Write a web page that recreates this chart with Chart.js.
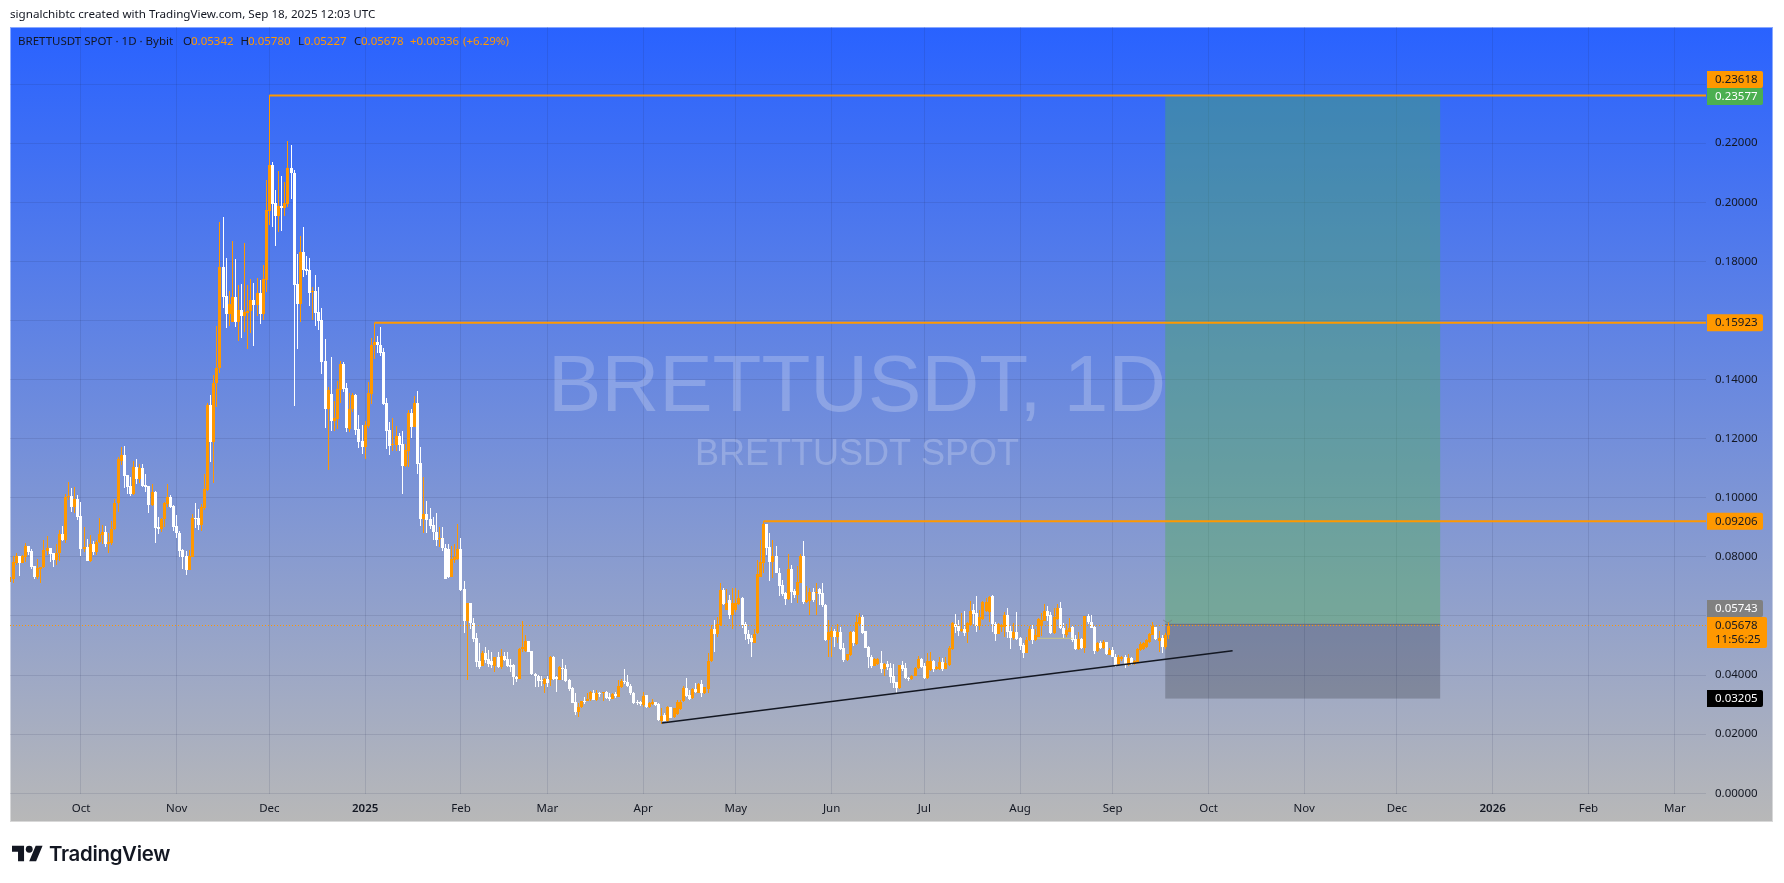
<!DOCTYPE html>
<html>
<head>
<meta charset="utf-8">
<title>BRETTUSDT</title>
<script src="https://cdn.jsdelivr.net/npm/chart.js@4/dist/chart.umd.min.js"></script>
<style>
    html, body { margin: 0; padding: 0; background: #fff; overflow: hidden; }
    #wrap { position: relative; width: 1784px; height: 883px; }
    #chart { position: absolute; left: 0; top: 0; }
    #credit { position: absolute; left: 10px; top: 6px; font: 11.65px "Noto Sans", sans-serif; color: #131722; white-space: nowrap; }
    #logo { position: absolute; left: 12px; top: 845px; }
    #brand { position: absolute; left: 49px; top: 841px; font: 600 20.4px Inter, sans-serif; color: #131722; letter-spacing: -0.3px; }
</style>
</head>
<body>
<div id="wrap">
    <canvas id="chart" width="1784" height="883"></canvas>
    <div id="credit">signalchibtc created with TradingView.com, Sep 18, 2025 12:03 UTC</div>
    <svg id="logo" width="31" height="17" viewBox="0 4 36 18"><path fill="#131722" d="M14 22H7V11H0V4h14v18zM28 22h-8l7.5-18h8L28 22z"/><circle fill="#131722" cx="20" cy="8" r="4"/></svg>
    <div id="brand">TradingView</div>
</div>
<script>
// daily candles, day numbers count from 1 Oct 2024
const firstDay = -23;

const opens = [
.0716,.0724,.0781,.0803,.0781,.0799,.0837,.0820,.0769,.0731,
.0758,.0765,.0821,.0830,.0813,.0790,.0812,.0878,.0857,.1002,
.1006,.0968,.0996,.0938,.0827,.0834,.0786,.0844,.0818,.0852,
.0873,.0884,.0844,.0846,.0893,.0981,.1125,.1145,.1076,.1040,
.1014,.1103,.1063,.1101,.1042,.1039,.0976,.1020,.0901,.0893,
.0927,.0979,.1001,.0972,.0905,.0881,.0822,.0803,.0756,.0801,
.0932,.0931,.0908,.0966,.1026,.1315,.1190,.1387,.1438,.1781,
.1683,.1623,.1596,.1680,.1596,.1636,.1615,.1627,.1633,.1669,
.1653,.1693,.1623,.1738,.1972,.2126,.1998,.1954,.1988,.1981,
.1994,.2116,.2099,.1724,.1656,.1832,.1774,.1771,.1698,.1700,
.1629,.1602,.1463,.1301,.1351,.1260,.1267,.1365,.1453,.1373,
.1232,.1299,.1348,.1232,.1191,.1172,.1243,.1352,.1516,.1527,
.1517,.1493,.1321,.1230,.1178,.1180,.1209,.1182,.1109,.1158,
.1287,.1240,.1321,.1118,.0928,.0945,.0928,.0908,.0884,.0861,
.0863,.0830,.0827,.0731,.0790,.0792,.0827,.0691,.0582,.0645,
.0575,.0526,.0446,.0431,.0476,.0453,.0447,.0432,.0462,.0429,
.0464,.0453,.0434,.0435,.0395,.0387,.0488,.0481,.0515,.0482,
.0404,.0398,.0384,.0370,.0386,.0384,.0462,.0393,.0384,.0423,
.0421,.0384,.0356,.0309,.0275,.0291,.0314,.0311,.0318,.0341,
.0316,.0341,.0338,.0344,.0325,.0319,.0336,.0327,.0359,.0380,
.0378,.0363,.0341,.0310,.0308,.0298,.0331,.0292,.0302,.0308,
.0301,.0246,.0265,.0243,.0291,.0257,.0267,.0284,.0312,.0358,
.0333,.0321,.0353,.0341,.0370,.0338,.0354,.0446,.0556,.0539,
.0570,.0688,.0620,.0654,.0602,.0620,.0641,.0662,.0572,.0539,
.0526,.0510,.0541,.0731,.0781,.0911,.0832,.0784,.0803,.0747,
.0705,.0677,.0656,.0758,.0686,.0671,.0713,.0803,.0649,.0652,
.0681,.0677,.0690,.0679,.0638,.0519,.0528,.0549,.0528,.0547,
.0493,.0451,.0468,.0547,.0505,.0573,.0598,.0549,.0494,.0462,
.0432,.0438,.0440,.0421,.0438,.0425,.0397,.0376,.0355,.0434,
.0423,.0391,.0387,.0398,.0423,.0453,.0432,.0389,.0417,.0448,
.0420,.0421,.0443,.0421,.0434,.0488,.0572,.0566,.0549,.0555,
.0547,.0570,.0620,.0609,.0566,.0589,.0617,.0615,.0666,.0573,
.0539,.0562,.0564,.0603,.0549,.0525,.0545,.0525,.0502,.0476,
.0519,.0555,.0519,.0530,.0566,.0584,.0617,.0603,.0541,.0589,
.0626,.0561,.0536,.0547,.0564,.0521,.0488,.0522,.0491,.0601,
.0579,.0563,.0482,.0510,.0491,.0511,.0469,.0485,.0462,.0437,
.0453,.0460,.0434,.0457,.0437,.0443,.0485,.0488,.0494,.0513,
.0536,.0564,.0515,.0527,.0494,.05342
];

const highs = [
.0761,.0804,.0812,.0803,.0807,.0846,.0837,.0826,.0769,.0792,
.0767,.0857,.0871,.0830,.0814,.0843,.0891,.0905,.1013,.1054,
.1032,.1037,.1010,.0986,.0900,.0861,.0874,.0855,.0857,.0931,
.0907,.0906,.0880,.0922,.0995,.1139,.1171,.1175,.1078,.1069,
.1125,.1130,.1114,.1113,.1081,.1040,.1047,.1023,.0934,.0931,
.0985,.1047,.1010,.0976,.0942,.0889,.0826,.0821,.0823,.0945,
.0982,.0961,.0979,.1081,.1320,.1348,.1416,.1581,.1933,.1950,
.1812,.1700,.1869,.1808,.1720,.1724,.1862,.1720,.1741,.1727,
.1744,.1737,.1788,.2076,.2362,.2136,.2042,.2106,.2089,.2069,
.2207,.2194,.2109,.1825,.1886,.1916,.1818,.1812,.1713,.1754,
.1713,.1642,.1537,.1374,.1477,.1328,.1395,.1463,.1461,.1387,
.1354,.1354,.1351,.1280,.1245,.1261,.1392,.1542,.1592,.1548,
.1578,.1506,.1338,.1257,.1270,.1243,.1219,.1226,.1182,.1297,
.1301,.1345,.1361,.1172,.1070,.0989,.0966,.0935,.0949,.0902,
.0900,.0844,.0844,.0837,.0843,.0911,.0864,.0719,.0645,.0645,
.0592,.0541,.0510,.0481,.0494,.0485,.0477,.0462,.0479,.0488,
.0479,.0477,.0456,.0438,.0398,.0491,.0583,.0536,.0515,.0483,
.0406,.0400,.0398,.0391,.0397,.0465,.0465,.0397,.0432,.0453,
.0434,.0387,.0361,.0338,.0305,.0314,.0325,.0338,.0345,.0350,
.0350,.0342,.0344,.0346,.0338,.0338,.0342,.0384,.0386,.0420,
.0400,.0370,.0344,.0316,.0314,.0342,.0333,.0310,.0319,.0310,
.0305,.0288,.0271,.0296,.0292,.0288,.0316,.0316,.0363,.0389,
.0350,.0355,.0372,.0372,.0384,.0361,.0474,.0570,.0587,.0598,
.0711,.0696,.0691,.0671,.0694,.0694,.0688,.0663,.0578,.0553,
.0536,.0555,.0790,.0857,.0921,.0911,.0880,.0857,.0837,.0761,
.0722,.0682,.0810,.0773,.0690,.0770,.0809,.0854,.0702,.0694,
.0694,.0711,.0694,.0711,.0641,.0587,.0564,.0555,.0573,.0562,
.0508,.0472,.0549,.0550,.0603,.0609,.0603,.0550,.0500,.0468,
.0459,.0457,.0483,.0440,.0449,.0440,.0438,.0378,.0434,.0447,
.0440,.0395,.0400,.0429,.0466,.0459,.0440,.0474,.0479,.0451,
.0432,.0462,.0457,.0460,.0500,.0581,.0607,.0587,.0609,.0617,
.0578,.0651,.0640,.0668,.0620,.0651,.0660,.0668,.0671,.0581,
.0575,.0573,.0615,.0626,.0566,.0575,.0615,.0528,.0508,.0530,
.0566,.0570,.0555,.0594,.0609,.0641,.0634,.0615,.0626,.0641,
.0646,.0575,.0573,.0592,.0566,.0536,.0547,.0527,.0601,.0606,
.0603,.0566,.0513,.0517,.0519,.0513,.0491,.0496,.0472,.0468,
.0466,.0468,.0472,.0462,.0451,.0491,.0513,.0513,.0522,.0541,
.0581,.0564,.0549,.0536,.0544,.05780
];

const lows = [
.0685,.0713,.0773,.0737,.0778,.0784,.0807,.0760,.0726,.0726,
.0711,.0761,.0807,.0784,.0767,.0773,.0786,.0853,.0848,.0993,
.0953,.0950,.0925,.0803,.0818,.0786,.0784,.0807,.0807,.0848,
.0844,.0835,.0812,.0840,.0891,.0953,.1111,.1034,.1013,.1006,
.1010,.1047,.1049,.1038,.1021,.0950,.0973,.0848,.0879,.0885,
.0902,.0970,.0967,.0889,.0863,.0801,.0759,.0739,.0756,.0799,
.0899,.0891,.0888,.0959,.1024,.1122,.1051,.1308,.1421,.1643,
.1576,.1583,.1594,.1579,.1532,.1542,.1562,.1505,.1556,.1515,
.1615,.1589,.1603,.1698,.1923,.1916,.1852,.1900,.1903,.1954,
.1984,.2011,.1311,.1504,.1596,.1747,.1754,.1649,.1602,.1581,
.1568,.1419,.1236,.1094,.1226,.1227,.1233,.1320,.1359,.1224,
.1224,.1292,.1213,.1170,.1148,.1131,.1236,.1317,.1470,.1490,
.1480,.1313,.1166,.1145,.1158,.1160,.1158,.1013,.1103,.1105,
.1202,.1240,.1081,.0905,.0881,.0881,.0895,.0857,.0837,.0832,
.0821,.0726,.0728,.0731,.0778,.0790,.0685,.0544,.0384,.0555,
.0513,.0429,.0422,.0431,.0440,.0429,.0423,.0411,.0423,.0420,
.0446,.0429,.0412,.0367,.0378,.0387,.0479,.0477,.0477,.0400,
.0359,.0361,.0363,.0338,.0361,.0363,.0384,.0344,.0384,.0384,
.0378,.0347,.0305,.0265,.0259,.0288,.0302,.0311,.0314,.0316,
.0314,.0325,.0314,.0318,.0314,.0319,.0321,.0325,.0355,.0370,
.0361,.0334,.0302,.0300,.0296,.0293,.0290,.0290,.0299,.0297,
.0243,.0235,.0243,.0240,.0254,.0254,.0265,.0282,.0310,.0325,
.0316,.0319,.0338,.0338,.0327,.0336,.0338,.0443,.0479,.0530,
.0567,.0637,.0620,.0589,.0556,.0615,.0637,.0558,.0519,.0505,
.0460,.0508,.0539,.0731,.0744,.0807,.0720,.0728,.0744,.0666,
.0666,.0637,.0654,.0643,.0660,.0643,.0711,.0641,.0643,.0603,
.0649,.0603,.0637,.0629,.0517,.0462,.0462,.0496,.0508,.0485,
.0443,.0449,.0465,.0500,.0503,.0570,.0539,.0490,.0423,.0425,
.0431,.0434,.0406,.0397,.0417,.0372,.0355,.0335,.0353,.0415,
.0386,.0380,.0384,.0396,.0420,.0423,.0387,.0387,.0415,.0409,
.0417,.0417,.0415,.0420,.0432,.0485,.0541,.0532,.0547,.0532,
.0508,.0566,.0573,.0547,.0553,.0587,.0615,.0581,.0547,.0517,
.0538,.0547,.0528,.0525,.0487,.0519,.0519,.0485,.0459,.0474,
.0515,.0505,.0517,.0528,.0532,.0582,.0584,.0539,.0539,.0587,
.0555,.0527,.0528,.0545,.0513,.0485,.0486,.0488,.0474,.0573,
.0558,.0472,.0479,.0488,.0488,.0469,.0467,.0460,.0429,.0434,
.0449,.0425,.0432,.0434,.0434,.0442,.0483,.0486,.0492,.0510,
.0534,.0519,.0479,.0476,.0488,.05227
];

const closes = [
.0733,.0784,.0803,.0781,.0804,.0837,.0817,.0767,.0732,.0761,
.0765,.0823,.0829,.0811,.0790,.0813,.0878,.0857,.1002,.1006,
.0970,.0995,.0936,.0827,.0835,.0786,.0844,.0817,.0852,.0878,
.0884,.0844,.0849,.0893,.0982,.1130,.1145,.1074,.1038,.1013,
.1103,.1065,.1101,.1040,.1038,.0976,.1021,.0899,.0893,.0927,
.0981,.1001,.0970,.0902,.0880,.0820,.0801,.0756,.0803,.0931,
.0928,.0909,.0968,.1029,.1315,.1190,.1387,.1438,.1781,.1680,
.1623,.1656,.1680,.1596,.1636,.1615,.1629,.1633,.1669,.1653,
.1693,.1623,.1741,.1974,.2126,.1994,.1954,.1988,.1981,.1997,
.2116,.2098,.1721,.1656,.1832,.1771,.1768,.1693,.1700,.1625,
.1598,.1460,.1301,.1365,.1260,.1269,.1368,.1453,.1368,.1235,
.1301,.1348,.1230,.1190,.1172,.1245,.1354,.1516,.1527,.1516,
.1491,.1317,.1227,.1176,.1182,.1209,.1180,.1109,.1162,.1287,
.1240,.1321,.1114,.0928,.0945,.0925,.0905,.0883,.0857,.0864,
.0829,.0726,.0731,.0792,.0799,.0827,.0688,.0582,.0643,.0575,
.0522,.0443,.0429,.0476,.0451,.0437,.0433,.0460,.0426,.0465,
.0451,.0431,.0429,.0393,.0387,.0488,.0494,.0517,.0479,.0403,
.0397,.0380,.0380,.0387,.0372,.0462,.0388,.0386,.0429,.0420,
.0381,.0354,.0307,.0275,.0293,.0312,.0311,.0319,.0344,.0316,
.0338,.0335,.0342,.0324,.0320,.0336,.0329,.0363,.0381,.0376,
.0363,.0338,.0307,.0305,.0303,.0329,.0293,.0306,.0310,.0299,
.0248,.0263,.0245,.0293,.0256,.0287,.0309,.0308,.0358,.0329,
.0320,.0353,.0342,.0370,.0341,.0359,.0446,.0555,.0539,.0573,
.0688,.0641,.0645,.0602,.0645,.0643,.0660,.0570,.0538,.0522,
.0511,.0538,.0742,.0784,.0911,.0831,.0784,.0803,.0747,.0702,
.0673,.0656,.0758,.0682,.0671,.0715,.0803,.0649,.0654,.0681,
.0654,.0681,.0675,.0637,.0519,.0547,.0549,.0528,.0547,.0488,
.0451,.0470,.0547,.0508,.0581,.0598,.0544,.0492,.0460,.0431,
.0453,.0455,.0421,.0438,.0426,.0395,.0374,.0358,.0434,.0420,
.0391,.0387,.0398,.0425,.0453,.0429,.0391,.0448,.0447,.0421,
.0429,.0443,.0421,.0440,.0493,.0575,.0564,.0549,.0555,.0544,
.0575,.0618,.0606,.0566,.0596,.0649,.0649,.0663,.0573,.0539,
.0573,.0570,.0603,.0547,.0527,.0547,.0523,.0499,.0476,.0519,
.0555,.0519,.0536,.0589,.0587,.0617,.0601,.0541,.0596,.0626,
.0558,.0538,.0553,.0558,.0519,.0488,.0522,.0491,.0601,.0578,
.0561,.0482,.0508,.0491,.0513,.0472,.0486,.0462,.0434,.0462,
.0460,.0434,.0459,.0437,.0448,.0487,.0505,.0508,.0519,.0538,
.0566,.0522,.0525,.0494,.0534,.05678
];

const days = opens.map((_, i) => firstDay + i);

const xTickDays = [0, 31, 61, 92, 123, 151, 182, 212, 243, 273, 304, 334, 365, 396, 426, 457, 488, 516];
const xTickLabels = ["Oct", "Nov", "Dec", "2025", "Feb", "Mar", "Apr", "May", "Jun", "Jul", "Aug", "Sep", "Oct", "Nov", "Dec", "2026", "Feb", "Mar"];
const yTicks = [0, .02, .04, .06, .08, .10, .12, .14, .16, .18, .20, .22, .24];

// levels drawn from the swing highs out to the right edge
const levelDays = [61, 95, 221];
const levelPrices = [.23618, .15923, .09206];

const lastPrice = .05678;
const trendDays = [188, 372.8];
const trendPrices = [.0238, .04826];
const paleLineDays = [309.5, 321];
const palePrices = [.05245, .05245];
const chevronDays = [350.3, 351.9, 353.2];
const chevronPrices = [.05865, .05764, .05865];

// long position box
const boxDays = [351, 440];
const targetPrice = .23577;
const entryPrice = .05743;
const stopPrice = .03205;

const xMin = -22.98, xMax = 526.06;
const yMin = -0.00024, yMax = 0.25932;

const ORANGE = "#FF9800";
const WHITE = "#FFFFFF";
const FONT = '"Noto Sans", sans-serif';
const GRID = "rgba(30,40,80,0.12)";

const candleColors = opens.map((o, i) => closes[i] >= o ? ORANGE : WHITE);

function levelData(day, price) {
    return [{ x: day, y: price }, { x: xMax, y: price }];
}

function pairs(xs, ys) {
    return xs.map((x, i) => ({ x: x, y: ys[i] }));
}

function lineSet(data, color, width, dash) {
    return {
        type: "line",
        data: data,
        borderColor: color,
        borderWidth: width,
        borderDash: dash || [],
        pointRadius: 0,
        tension: 0,
        order: 0
    };
}

const backdropPlugin = {
    id: "backdrop",
    beforeDraw(chart) {
        const ctx = chart.ctx;
        const grad = ctx.createLinearGradient(0, 27, 0, 822);
        grad.addColorStop(0, "#2962FF");
        grad.addColorStop(1, "#B8B8B8");
        ctx.fillStyle = grad;
        ctx.fillRect(10, 27, 1763, 795);
        ctx.strokeStyle = "rgba(255,255,255,0.45)";
        ctx.lineWidth = 1;
        ctx.strokeRect(10.5, 27.5, 1762, 794);
    },
    // snap the candles to whole pixels, TradingView draws them crisp
    afterDatasetsUpdate(chart) {
        chart.data.datasets.forEach((ds, i) => {
            if (ds.type === "line") return;
            chart.getDatasetMeta(i).data.forEach(el => {
                el.x = Math.floor(el.x) + 0.5;
                el.y = Math.round(el.y);
                el.base = Math.round(el.base);
                if (el.base === el.y) el.base = el.y + 1;
            });
        });
    }
};

const boxPlugin = {
    id: "longBox",
    beforeDatasetsDraw(chart) {
        const ctx = chart.ctx;
        const x = chart.scales.x, y = chart.scales.y;
        const left = x.getPixelForValue(boxDays[0]);
        const right = x.getPixelForValue(boxDays[1]);
        const top = y.getPixelForValue(targetPrice);
        const mid = y.getPixelForValue(entryPrice);
        const bottom = y.getPixelForValue(stopPrice);

        // watermark
        ctx.save();
        ctx.textAlign = "center";
        ctx.textBaseline = "middle";
        ctx.fillStyle = "rgba(255,255,255,0.22)";
        ctx.font = '80px "Liberation Sans", sans-serif';
        ctx.fillText("BRETTUSDT, 1D", 857, 389);
        ctx.font = '36px "Liberation Sans", sans-serif';
        ctx.fillText("BRETTUSDT SPOT", 857, 455);
        ctx.restore();

        ctx.fillStyle = "rgba(76,175,80,0.4)";
        ctx.fillRect(left, top, right - left, mid - top);
        ctx.fillStyle = "rgba(0,0,0,0.2)";
        ctx.fillRect(left, mid, right - left, bottom - mid);
        ctx.strokeStyle = "rgba(110,110,110,0.8)";
        ctx.lineWidth = 1;
        ctx.beginPath();
        ctx.moveTo(left, Math.round(mid) + 0.5);
        ctx.lineTo(right, Math.round(mid) + 0.5);
        ctx.stroke();
    }
};

function tagShape(ctx, y, w, h, bg) {
    ctx.fillStyle = bg;
    ctx.beginPath();
    ctx.roundRect(1707, y, w, h, [0, 2, 2, 0]);
    ctx.fill();
}

function priceTag(ctx, y, text, bg, fg) {
    tagShape(ctx, y - 8.5, 56, 17, bg);
    ctx.fillStyle = fg;
    ctx.fillText(text, 1715, y);
}

const tagsPlugin = {
    id: "priceTags",
    afterDraw(chart) {
        const ctx = chart.ctx;
        const y = chart.scales.y;
        ctx.save();
        ctx.font = "11.5px " + FONT;
        ctx.textBaseline = "middle";
        ctx.textAlign = "left";

        priceTag(ctx, y.getPixelForValue(levelPrices[0]) - 15.8, levelPrices[0].toFixed(5), ORANGE, "#131722");
        priceTag(ctx, y.getPixelForValue(targetPrice), targetPrice.toFixed(5), "#4CAF50", "#fff");
        priceTag(ctx, y.getPixelForValue(levelPrices[1]), levelPrices[1].toFixed(5), ORANGE, "#131722");
        priceTag(ctx, y.getPixelForValue(levelPrices[2]), levelPrices[2].toFixed(5), ORANGE, "#131722");
        priceTag(ctx, y.getPixelForValue(entryPrice) - 15, entryPrice.toFixed(5), "#808080", "#fff");
        priceTag(ctx, y.getPixelForValue(stopPrice), stopPrice.toFixed(5), "#000", "#fff");

        const last = y.getPixelForValue(lastPrice);
        tagShape(ctx, last - 8.5, 60, 31, ORANGE);
        ctx.fillStyle = "#131722";
        ctx.fillText(lastPrice.toFixed(5), 1715, last);
        ctx.fillText("11:56:25", 1715, last + 14.5);

        // legend line
        const legend = [
            ["BRETTUSDT SPOT · 1D · Bybit", 18, "#131722"],
            ["O", 183, "#131722"], ["0.05342", 191, ORANGE],
            ["H", 240.5, "#131722"], ["0.05780", 248, ORANGE],
            ["L", 298, "#131722"], ["0.05227", 304, ORANGE],
            ["C", 354, "#131722"], ["0.05678", 361, ORANGE],
            ["+0.00336", 410, ORANGE], ["(+6.29%)", 463, ORANGE]
        ];
        legend.forEach(item => {
            ctx.fillStyle = item[2];
            ctx.fillText(item[0], item[1], 41.5);
        });
        ctx.restore();
    }
};

new Chart(document.getElementById("chart"), {
    type: "bar",
    data: {
        datasets: [
            {
                data: days.map((d, i) => ({ x: d, y: [lows[i], highs[i]] })),
                backgroundColor: candleColors,
                barThickness: 1,
                inflateAmount: 0,
                grouped: false,
                order: 3
            },
            {
                data: days.map((d, i) => ({ x: d, y: [opens[i], closes[i]] })),
                backgroundColor: candleColors,
                barThickness: 3,
                inflateAmount: 0,
                grouped: false,
                order: 2
            },
            lineSet(levelData(xMin, lastPrice), ORANGE, 1, [1, 2]),
            lineSet(levelData(levelDays[0], levelPrices[0]), ORANGE, 2),
            lineSet(levelData(levelDays[1], levelPrices[1]), ORANGE, 2),
            lineSet(levelData(levelDays[2], levelPrices[2]), ORANGE, 2),
            lineSet(pairs(trendDays, trendPrices), "#131722", 1.5),
            lineSet(pairs(paleLineDays, palePrices), "rgba(215,205,120,0.8)", 1),
            lineSet(pairs(chevronDays, chevronPrices), "rgba(120,120,120,0.6)", 1)
        ]
    },
    options: {
        responsive: false,
        animation: false,
        events: [],
        layout: { padding: { left: 10, top: 27, right: 11, bottom: 61 } },
        plugins: {
            legend: { display: false },
            tooltip: { enabled: false }
        },
        scales: {
            x: {
                type: "linear",
                min: xMin,
                max: xMax,
                offset: false,
                grid: { offset: false, color: GRID, drawTicks: false },
                border: { display: false },
                afterBuildTicks: s => { s.ticks = xTickDays.map(v => ({ value: v })); },
                afterFit: s => { s.height = 28; },
                ticks: {
                    autoSkip: false,
                    maxRotation: 0,
                    padding: 8,
                    color: "#131722",
                    font: c => ({ family: FONT, size: 11.5, weight: c.index === 3 || c.index === 15 ? "600" : "400" }),
                    callback: (v, i) => xTickLabels[i]
                }
            },
            y: {
                position: "right",
                min: yMin,
                max: yMax,
                grid: { color: GRID, drawTicks: false },
                border: { display: false },
                afterBuildTicks: s => { s.ticks = yTicks.map(v => ({ value: v })); },
                afterFit: s => { s.width = 67; },
                ticks: {
                    autoSkip: false,
                    padding: 9,
                    color: "#131722",
                    font: { family: FONT, size: 11.5 },
                    callback: v => v.toFixed(5)
                }
            }
        }
    },
    plugins: [backdropPlugin, boxPlugin, tagsPlugin]
});
</script>
</body>
</html>
